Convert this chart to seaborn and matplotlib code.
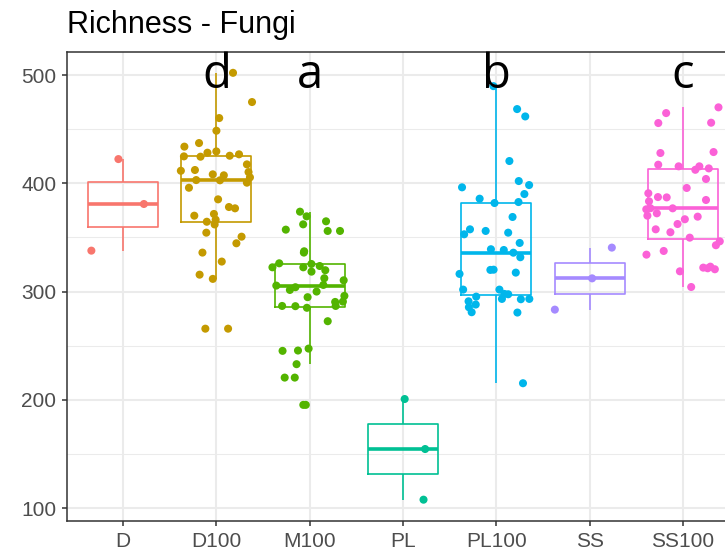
import numpy as np
import pandas as pd
import matplotlib
matplotlib.use("Agg")
import matplotlib.pyplot as plt
from matplotlib.ticker import MultipleLocator
import seaborn as sns

# Fungal richness per site group
sites = ["D", "D100", "M100", "PL", "PL100", "SS", "SS100"]
colors = ["#F8766D", "#C49A00", "#53B400", "#00C094", "#00B6EB", "#A58AFF", "#FB61D7"]
letters = {"D100": "d", "M100": "a", "PL100": "b", "SS100": "c"}

rich_D = [337.8, 380.9, 422.4]
rich_D100 = [502.1, 475.1, 460.3, 448.6, 433.9, 437.2, 429.5, 425.5, 426.8, 428.3,
             424.9, 424.6, 417.5, 412.3, 408.3, 410.4, 411.6, 407.4, 405.5, 403.0,
             402.8, 400.6, 395.9, 385.2, 376.9, 378.1, 371.7, 370.1, 366.4, 364.5,
             362.0, 354.4, 350.7, 344.6, 336.0, 327.7, 315.6, 311.7, 265.7, 265.7]
rich_M100 = [373.8, 369.5, 364.9, 362.1, 356.0, 357.2, 356.0, 336.0, 337.2, 323.6,
             325.5, 322.4, 322.4, 326.1, 319.7, 318.4, 312.3, 310.4, 306.1, 305.5,
             304.0, 300.0, 301.5, 296.0, 290.7, 286.7, 294.8, 290.4, 286.7, 286.5,
             285.0, 272.6, 247.3, 245.2, 245.5, 232.9, 220.5, 220.5, 195.3, 195.3]
rich_PL = [107.7, 154.5, 200.7]
rich_PL100 = [489.8, 468.6, 461.8, 420.6, 402.1, 398.4, 396.3, 390.1, 385.8, 381.8,
              382.7, 368.9, 357.5, 354.4, 352.9, 356.0, 344.9, 339.1, 338.4, 335.9,
              331.7, 317.5, 316.3, 320.0, 320.2, 301.8, 301.8, 297.8, 292.9, 293.2,
              291.0, 295.3, 297.5, 285.5, 288.0, 293.2, 280.9, 280.6, 215.3]
rich_SS = [283.3, 312.2, 340.6]
rich_SS100 = [470.2, 464.9, 455.7, 456.0, 428.9, 428.0, 415.7, 415.7, 413.8, 417.2,
              412.5, 404.0, 395.7, 387.3, 390.8, 387.0, 384.6, 383.4, 376.0, 376.9,
              377.0, 372.3, 370.1, 366.8, 369.2, 362.4, 357.5, 354.8, 349.8, 342.8,
              346.4, 337.5, 334.1, 321.5, 320.6, 318.7, 322.1, 323.0, 304.2]

groups = [rich_D, rich_D100, rich_M100, rich_PL, rich_PL100, rich_SS, rich_SS100]
df = pd.DataFrame({
    "site": np.repeat(sites, [len(g) for g in groups]),
    "richness": np.concatenate(groups),
})

plt.rcParams["font.family"] = ["Liberation Sans", "DejaVu Sans"]

fig = plt.figure(figsize=(7.25, 5.56), dpi=100)
ax = fig.add_axes([67 / 725, 35 / 556, 672 / 725, 469.5 / 556])

sns.boxplot(data=df, x="site", y="richness", hue="site", order=sites,
            hue_order=sites, palette=colors, fill=False, width=0.75,
            linewidth=1.2, showfliers=False, showcaps=False,
            medianprops={"linewidth": 2.6}, legend=False, ax=ax)

np.random.seed(7)
sns.stripplot(data=df, x="site", y="richness", hue="site", order=sites,
              hue_order=sites, palette=colors, jitter=0.4, size=5.8,
              linewidth=0, legend=False, zorder=3, ax=ax)

for i, s in enumerate(sites):
    if s in letters:
        ax.text(i, 488, letters[s], ha="center", va="baseline", fontsize=34,
                family=["Open Sans", "DejaVu Sans"], color="black", zorder=5)

ax.set_xlim(-0.6, 6.6)
ax.set_ylim(88, 521.8)
ax.yaxis.set_major_locator(MultipleLocator(100))
ax.yaxis.set_minor_locator(MultipleLocator(50))
ax.set_axisbelow(True)
ax.grid(which="major", color="#EBEBEB", linewidth=1.5)
ax.grid(which="minor", axis="y", color="#EBEBEB", linewidth=0.75)
ax.set_facecolor("white")
for sp in ax.spines.values():
    sp.set_visible(True)
    sp.set_color("#333333")
    sp.set_linewidth(1.1)
ax.tick_params(which="major", labelsize=15, labelcolor="#4D4D4D", color="#333333",
               length=3.6, width=1.1, pad=4)
ax.tick_params(which="minor", length=0)
ax.set_xlabel("")
ax.set_ylabel("")

fig.text(67 / 725, 1 - 10 / 556, "Richness - Fungi", fontsize=22, ha="left",
         va="top", color="black")

fig.savefig("out.png", dpi=100)
